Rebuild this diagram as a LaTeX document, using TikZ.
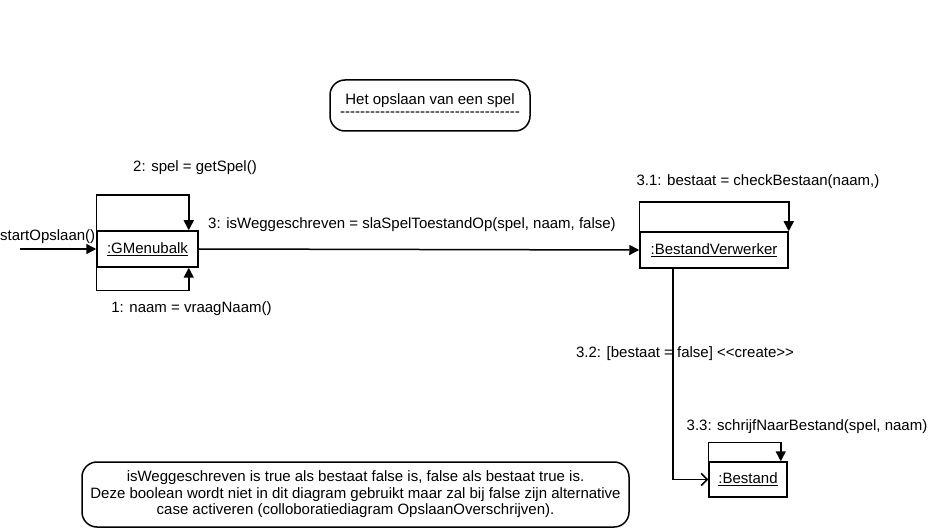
\documentclass[tikz,border=0pt]{standalone}
\usepackage{fontspec}
\setmainfont{Liberation Sans}
\usetikzlibrary{arrows.meta}
\newcommand\lblfont{\fontsize{15}{16.5}\selectfont}
\newcommand\hyph{\hbox{-}}
\newcommand\lt{\hbox{<}}
\newcommand\gt{\hbox{>}}
\begin{document}
\begin{tikzpicture}[x=1pt,y=-1pt,
  obj/.style={draw,line width=1.5pt,inner sep=0pt,font=\lblfont},
  msg/.style={line width=1.5pt,-{Triangle[length=10pt,width=10pt]}},
  create/.style={line width=1.5pt,-{Straight Barb[length=6pt,width=12pt,line width=1.5pt]}},
  lbl/.style={inner sep=0pt,font=\lblfont},
  note/.style={draw,line width=1.5pt,rounded corners=15pt,inner sep=0pt,align=center,font=\lblfont}]
\useasboundingbox (0,0) rectangle (929,529);
% title
\node[note,minimum width=200pt,minimum height=51pt] (title) at (430,105.5)
  {Het opslaan van een spel\\[-4.5pt]\hyph\hyph\hyph\hyph\hyph\hyph\hyph\hyph\hyph\hyph\hyph\hyph\hyph\hyph\hyph\hyph\hyph\hyph\hyph\hyph\hyph\hyph\hyph\hyph\hyph\hyph\hyph\hyph\hyph\hyph\hyph\hyph\hyph\hyph\hyph\hyph};
% objects
\node[obj,minimum width=101pt,minimum height=36pt] (gm) at (147.5,249) {\underline{:GMenubalk}};
\node[obj,minimum width=148pt,minimum height=36pt] (bv) at (714,250) {\underline{:BestandVerwerker}};
\node[obj,minimum width=78pt,minimum height=35pt] (bs) at (748,479.5) {\underline{:Bestand}};
% start
\coordinate (start) at (20,249);
\node[lbl,anchor=west] (startlbl) at (0,237) {startOpslaan()};
\draw[msg] (start) -- (gm.west);
% gm loops
\draw[msg] (gm.north west) -- ++(0,-35) -| ([xshift=-10pt]gm.north east);
\node[lbl] (l2) at (195,168) {2: spel = getSpel()};
\draw[msg] (gm.south west) -- ++(0,23) -| ([xshift=-10pt]gm.south east);
\node[lbl] (l1) at (191.5,309) {1: naam = vraagNaam()};
% main message
\draw[msg] (gm.east) -- (bv.west);
\node[lbl] (l3) at (412,225) {3: isWeggeschreven = slaSpelToestandOp(spel, naam, false)};
% bv loop
\draw[msg] (bv.north west) -- ++(0,-29) -| (bv.north east);
\node[lbl] (l31) at (758,182) {3.1: bestaat = checkBestaan(naam,)};
% create
\draw[create] ([xshift=-41pt]bv.south) |- (bs.west);
\node[lbl] (l32) at (685,354) {3.2: [bestaat = false] \lt\lt create\gt\gt};
% bs loop
\draw[msg] (bs.north west) -- ++(0,-19) -| ([xshift=-7pt]bs.north east);
\node[lbl] (l33) at (807,427) {3.3: schrijfNaarBestand(spel, naam)};
% note
\node[note,minimum width=547pt,minimum height=65pt] (remark) at (355.5,494.5)
  {isWeggeschreven is true als bestaat false is, false als bestaat true is.\\
   Deze boolean wordt niet in dit diagram gebruikt maar zal bij false zijn alternative\\
   case activeren (colloboratiediagram OpslaanOverschrijven).};
\end{tikzpicture}
\end{document}
